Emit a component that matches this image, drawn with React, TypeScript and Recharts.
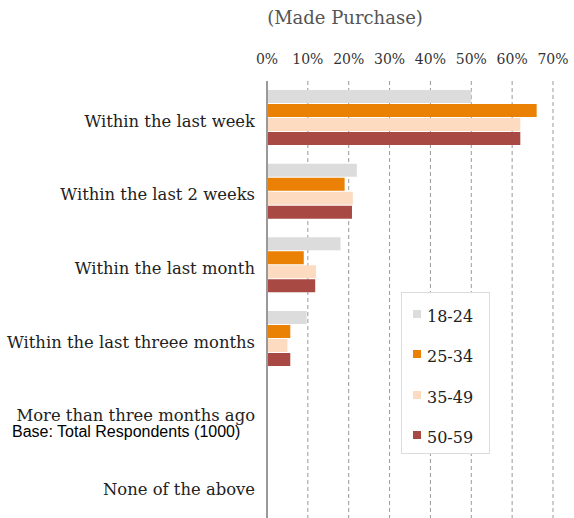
import React from "react";
import { BarChart, Bar, XAxis, YAxis, CartesianGrid } from "recharts";

const categories = [
  "Within the last week",
  "Within the last 2 weeks",
  "Within the last month",
  "Within the last threee months",
  "More than three months ago",
  "None of the above",
];

const age18to24 = [50, 22, 18, 9.7, 0, 0];
const age25to34 = [66, 19, 9, 5.7, 0, 0];
const age35to49 = [62, 21, 12, 5, 0, 0];
const age50to59 = [62, 20.8, 11.8, 5.7, 0, 0];

const xTicks = [0, 10, 20, 30, 40, 50, 60, 70];

const series = [
  { key: "a", name: "18-24", color: "#dcdcdc" },
  { key: "b", name: "25-34", color: "#ea8004" },
  { key: "c", name: "35-49", color: "#fcdbc1" },
  { key: "d", name: "50-59", color: "#a84a43" },
];

const chartData = categories.map((label, i) => ({
  label,
  a: age18to24[i],
  b: age25to34[i],
  c: age35to49[i],
  d: age50to59[i],
}));

const serif = "'DejaVu Serif', serif";

// legend drawn as a plain box so the chart doesn't reserve space for it
function LegendBox() {
  return (
    <div
      style={{
        position: "absolute",
        left: 401,
        top: 292,
        width: 89,
        height: 162,
        background: "white",
        border: "1px solid #dcdcdc",
        boxSizing: "border-box",
        paddingTop: 15,
      }}
    >
      {series.map((s) => (
        <div
          key={s.key}
          style={{
            display: "flex",
            alignItems: "flex-start",
            height: 40.3,
            paddingLeft: 11,
          }}
        >
          <span
            style={{
              display: "inline-block",
              width: 8,
              height: 8,
              marginTop: 2,
              marginRight: 6,
              background: s.color,
            }}
          />
          <span
            style={{
              fontFamily: serif,
              fontSize: 16,
              lineHeight: "18px",
              color: "#222",
            }}
          >
            {s.name}
          </span>
        </div>
      ))}
    </div>
  );
}

export default function App() {
  return (
    <div
      style={{
        position: "absolute",
        left: 0,
        top: 0,
        width: 574,
        height: 518,
        overflow: "hidden",
        background: "white",
      }}
    >
      <div
        style={{
          position: "absolute",
          left: 0,
          width: 574,
          top: 7,
          paddingLeft: 116,
          boxSizing: "border-box",
          textAlign: "center",
          fontFamily: serif,
          fontSize: 18,
          color: "#555",
        }}
      >
        (Made Purchase)
      </div>
      <BarChart
        width={574}
        height={525}
        data={chartData}
        layout="vertical"
        margin={{ top: 51, right: 21, bottom: 2, left: 0 }}
        barSize={13}
        barGap={1}
      >
        <CartesianGrid
          horizontal={false}
          stroke="#999"
          strokeDasharray="4 3"
        />
        <XAxis
          type="number"
          orientation="top"
          domain={[0, 70]}
          ticks={xTicks}
          tickFormatter={(v) => `${v}%`}
          height={30}
          axisLine={false}
          tickLine={false}
          tickMargin={11}
          tick={{ fill: "#333", fontSize: 14, fontFamily: serif }}
          interval={0}
        />
        <YAxis
          type="category"
          dataKey="label"
          width={267}
          tickLine={false}
          axisLine={{ stroke: "#999", strokeWidth: 2 }}
          tickMargin={6}
          tick={{ fill: "#222", fontSize: 16.4, fontFamily: serif, dy: 3 }}
          interval={0}
        />
        {series.map((s) => (
          <Bar
            key={s.key}
            dataKey={s.key}
            name={s.name}
            fill={s.color}
            isAnimationActive={false}
          />
        ))}
      </BarChart>
      <LegendBox />
      <div
        style={{
          position: "absolute",
          left: 12,
          top: 423,
          fontFamily: "'Liberation Sans', Arial, sans-serif",
          fontSize: 16,
          lineHeight: "18px",
          color: "#000",
        }}
      >
        Base: Total Respondents (1000)
      </div>
    </div>
  );
}
